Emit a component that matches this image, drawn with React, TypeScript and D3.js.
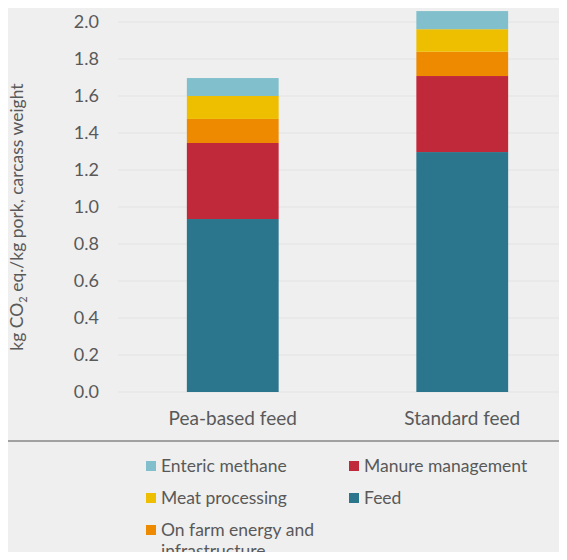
import React, { useEffect, useRef } from 'react'
import * as d3 from 'd3'

const categories = ['Pea-based feed', 'Standard feed']
const series = ['Feed', 'Manure management', 'On farm energy and infrastructure', 'Meat processing', 'Enteric methane']
const feed = [0.935, 1.297]
const manure = [0.411, 0.411]
const onFarm = [0.13, 0.131]
const meat = [0.124, 0.122]
const enteric = [0.097, 0.098]
const colors = ['#2b768c', '#c0293a', '#ee8a00', '#eebf00', '#80bfcb']
const yTicks = [0, 0.2, 0.4, 0.6, 0.8, 1.0, 1.2, 1.4, 1.6, 1.8, 2.0]
const legendOrder = ['Enteric methane', 'Manure management', 'Meat processing', 'Feed', 'On farm energy and infrastructure']

const W = 567
const H = 560
const font = 'Lato, "Open Sans", sans-serif'
const textColor = '#595959'

const App = () => {
  const svgRef = useRef<SVGSVGElement>(null)

  useEffect(() => {
    if (!svgRef.current) return
    const svg = d3.select(svgRef.current)
    svg.selectAll('*').remove()

    const values = [feed, manure, onFarm, meat, enteric]
    const rows = categories.map((c, i) => {
      const r: any = { category: c }
      series.forEach((s, j) => (r[s] = values[j][i]))
      return r
    })
    const stacked = d3.stack<any>().keys(series)(rows)

    const x = d3.scaleBand().domain(categories).range([118, 577]).paddingInner(0.6).paddingOuter(0.3)
    const y = d3.scaleLinear().domain([0, 2]).range([392, 22])

    svg.append('rect').attr('width', W).attr('height', H).attr('fill', '#efefef')

    // gridlines
    svg
      .append('g')
      .selectAll('line')
      .data(yTicks)
      .join('line')
      .attr('x1', 118)
      .attr('x2', W)
      .attr('y1', (d) => y(d))
      .attr('y2', (d) => y(d))
      .attr('stroke', '#e3e3e3')
      .attr('stroke-width', 1)

    // y tick labels
    svg
      .append('g')
      .selectAll('text')
      .data(yTicks)
      .join('text')
      .attr('x', 99)
      .attr('y', (d) => y(d))
      .attr('dy', '0.35em')
      .attr('text-anchor', 'end')
      .attr('font-family', font)
      .attr('font-size', 18)
      .attr('fill', textColor)
      .text((d) => d.toFixed(1))

    // bars
    svg
      .append('g')
      .selectAll('g')
      .data(stacked)
      .join('g')
      .attr('fill', (d, i) => colors[i])
      .selectAll('rect')
      .data((d) => d)
      .join('rect')
      .attr('x', (d) => x(d.data.category)!)
      .attr('width', x.bandwidth())
      .attr('y', (d) => y(d[1]))
      .attr('height', (d) => y(d[0]) - y(d[1]))

    // x labels
    svg
      .append('g')
      .selectAll('text')
      .data(categories)
      .join('text')
      .attr('x', (d) => x(d)! + x.bandwidth() / 2)
      .attr('y', 425)
      .attr('text-anchor', 'middle')
      .attr('font-family', font)
      .attr('font-size', 19)
      .attr('fill', textColor)
      .text((d) => d)

    // y title
    const title = svg
      .append('text')
      .attr('transform', 'translate(23,217) rotate(-90)')
      .attr('text-anchor', 'middle')
      .attr('font-family', font)
      .attr('font-size', 17.5)
      .attr('fill', textColor)
    title.append('tspan').text('kg CO')
    title.append('tspan').attr('font-size', 11).attr('dy', 4).text('2')
    title.append('tspan').attr('dy', -4).text(' eq./kg pork, carcass weight')

    // separator line
    svg
      .append('line')
      .attr('x1', 5)
      .attr('x2', W)
      .attr('y1', 441)
      .attr('y2', 441)
      .attr('stroke', '#555')
      .attr('stroke-width', 1.2)

    // legend
    const legend = svg.append('g')
    legendOrder.forEach((name, i) => {
      const col = i % 2
      const row = Math.floor(i / 2)
      const lx = col === 0 ? 146 : 349
      const ly = 466 + row * 32
      const g = legend.append('g').attr('transform', `translate(${lx},${ly})`)
      g.append('rect')
        .attr('x', 0)
        .attr('y', -5)
        .attr('width', 10)
        .attr('height', 10)
        .attr('fill', colors[series.indexOf(name)])
      const t = g
        .append('text')
        .attr('x', 15)
        .attr('y', 0)
        .attr('dy', '0.35em')
        .attr('font-family', font)
        .attr('font-size', 17.5)
        .attr('fill', textColor)
      if (name === 'On farm energy and infrastructure') {
        t.append('tspan').attr('x', 15).text('On farm energy and')
        t.append('tspan').attr('x', 15).attr('dy', 21).text('infrastructure')
      } else {
        t.text(name)
      }
    })
  }, [])

  return (
    <div style={{ margin: -8 }}>
      <svg ref={svgRef} width={W} height={H} style={{ display: 'block' }} />
    </div>
  )
}

export default App
